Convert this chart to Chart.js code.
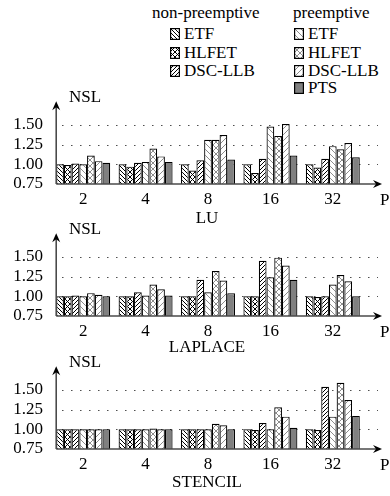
<!DOCTYPE html>
<html>
<head>
<meta charset="utf-8">
<script src="https://cdn.jsdelivr.net/npm/chart.js@4/dist/chart.umd.min.js"></script>
<style>
  html, body { margin: 0; padding: 0; background: #fff; }
  body { width: 390px; height: 496px; position: relative; overflow: hidden;
         font-family: "Liberation Serif", "DejaVu Serif", serif; color: #000; }
  .t { position: absolute; font-size: 17px; line-height: 20px; white-space: nowrap; }
  .ctr { transform: translateX(-50%); }
  canvas.chart { position: absolute; left: 0; }
  canvas.sw { position: absolute; }
</style>
</head>
<body>
<script>
// ---------------- data ----------------
const categories = ['2', '4', '8', '16', '32'];
const seriesNames = ['ETF', 'HLFET', 'DSC-LLB', 'ETF', 'HLFET', 'DSC-LLB', 'PTS'];
const yTickValues = [0.75, 1.00, 1.25, 1.50];
const gridValues = [1.00, 1.25, 1.50];

// LU
const luNpETF   = [1.00, 1.00, 1.00, 1.00, 1.00];
const luNpHLFET = [0.99, 0.97, 0.92, 0.89, 0.96];
const luNpDSC   = [1.01, 1.02, 1.05, 1.07, 1.07];
const luPETF    = [1.00, 1.03, 1.31, 1.48, 1.23];
const luPHLFET  = [1.11, 1.20, 1.31, 1.36, 1.19];
const luPDSC    = [1.04, 1.10, 1.37, 1.51, 1.27];
const luPTS     = [1.02, 1.03, 1.06, 1.11, 1.09];
// LAPLACE
const lapNpETF   = [1.00, 1.00, 1.00, 1.00, 1.00];
const lapNpHLFET = [1.00, 1.00, 1.00, 1.00, 0.99];
const lapNpDSC   = [1.01, 1.05, 1.21, 1.45, 1.00];
const lapPETF    = [1.00, 1.01, 1.05, 1.24, 1.15];
const lapPHLFET  = [1.04, 1.15, 1.32, 1.49, 1.27];
const lapPDSC    = [1.02, 1.09, 1.20, 1.39, 1.19];
const lapPTS     = [1.00, 1.01, 1.04, 1.21, 1.00];
// STENCIL
const stNpETF   = [1.00, 1.00, 1.00, 1.00, 1.00];
const stNpHLFET = [1.00, 1.00, 1.00, 0.99, 0.99];
const stNpDSC   = [1.00, 1.00, 1.00, 1.08, 1.54];
const stPETF    = [1.00, 1.00, 1.00, 1.00, 1.16];
const stPHLFET  = [1.00, 1.01, 1.07, 1.28, 1.59];
const stPDSC    = [1.00, 1.00, 1.05, 1.16, 1.37];
const stPTS     = [1.00, 1.00, 1.00, 1.02, 1.17];

const panelTitles = ['LU', 'LAPLACE', 'STENCIL'];
const panelData = [
  [luNpETF, luNpHLFET, luNpDSC, luPETF, luPHLFET, luPDSC, luPTS],
  [lapNpETF, lapNpHLFET, lapNpDSC, lapPETF, lapPHLFET, lapPDSC, lapPTS],
  [stNpETF, stNpHLFET, stNpDSC, stPETF, stPHLFET, stPDSC, stPTS]
];

// ---------------- patterns ----------------
function makePattern(kind, color, s, lw) {
  const c = document.createElement('canvas');
  c.width = s; c.height = s;
  const g = c.getContext('2d');
  g.fillStyle = '#fff'; g.fillRect(0, 0, s, s);
  if (kind === 'solid') { g.fillStyle = color; g.fillRect(0, 0, s, s); return g.createPattern(c, 'repeat'); }
  g.strokeStyle = color; g.lineWidth = lw; g.beginPath();
  for (let k = -1; k <= 1; k++) {
    if (kind === 'back' || kind === 'cross') { g.moveTo(k * s, 0); g.lineTo(k * s + s, s); }
    if (kind === 'fwd' || kind === 'cross') { g.moveTo(k * s, s); g.lineTo(k * s + s, 0); }
  }
  g.stroke();
  return g.createPattern(c, 'repeat');
}
const fills = [
  makePattern('back', '#000', 4, 1),
  makePattern('cross', '#000', 5, 1),
  makePattern('fwd', '#000', 4, 1),
  makePattern('back', '#8c8c8c', 6, 1),
  makePattern('cross', '#8c8c8c', 6, 1),
  makePattern('fwd', '#8c8c8c', 6, 1),
  makePattern('solid', '#808080', 4, 1)
];

// ---------------- static text ----------------
function addText(txt, x, yc, center) {
  const d = document.createElement('div');
  d.className = 't' + (center ? ' ctr' : '');
  d.textContent = txt;
  d.style.left = x + 'px';
  d.style.top = (yc - 10) + 'px';
  document.body.appendChild(d);
}
function addSwatch(i, x, yc) {
  const c = document.createElement('canvas');
  c.className = 'sw'; c.width = 10; c.height = 12;
  c.style.left = x + 'px'; c.style.top = (yc - 6) + 'px';
  const g = c.getContext('2d');
  g.fillStyle = fills[i]; g.fillRect(0, 0, 10, 12);
  g.strokeStyle = '#000'; g.lineWidth = 1.2; g.strokeRect(0.6, 0.6, 8.8, 10.8);
  document.body.appendChild(c);
}
addText('non-preemptive', 152, 13);
addText('preemptive', 293, 13);
const legendRows = [34, 52.5, 70.5, 88];
for (let i = 0; i < 3; i++) {
  addSwatch(i, 170, legendRows[i]);
  addText(seriesNames[i], 184, legendRows[i]);
}
for (let i = 3; i < 7; i++) {
  addSwatch(i, 294, legendRows[i - 3]);
  addText(seriesNames[i], 308, legendRows[i - 3]);
}

// ---------------- charts ----------------
const canvasTops = [82, 214, 347];
const titleY = [218, 347, 482];

function arrow(ctx, tx, ty, dir) {
  const L = 9, W = 4, N = 3;
  ctx.beginPath();
  if (dir === 'up') {
    ctx.moveTo(tx, ty); ctx.lineTo(tx - W, ty + L); ctx.lineTo(tx, ty + L - N); ctx.lineTo(tx + W, ty + L);
  } else {
    ctx.moveTo(tx, ty); ctx.lineTo(tx - L, ty - W); ctx.lineTo(tx - L + N, ty); ctx.lineTo(tx - L, ty + W);
  }
  ctx.closePath(); ctx.fillStyle = '#000'; ctx.fill();
}

const axesPlugin = {
  id: 'axesPlugin',
  beforeDatasetsDraw(chart) {
    const ctx = chart.ctx, y = chart.scales.y;
    const bar = chart.getDatasetMeta(0).data[0];
    const x0 = bar.x - bar.width / 2;
    ctx.save();
    ctx.strokeStyle = '#222'; ctx.lineWidth = 1.1; ctx.setLineDash([1.2, 7.8]);
    gridValues.forEach(v => {
      const py = Math.round(y.getPixelForValue(v)) + 0.5;
      ctx.beginPath(); ctx.moveTo(x0 + 6, py); ctx.lineTo(378, py); ctx.stroke();
    });
    ctx.restore();
  },
  afterDraw(chart) {
    const ctx = chart.ctx, a = chart.chartArea;
    const bar = chart.getDatasetMeta(0).data[0];
    const x0 = bar.x - bar.width / 2;
    ctx.save();
    ctx.setLineDash([]);
    ctx.strokeStyle = '#4a4a4a'; ctx.lineWidth = 1.6;
    ctx.beginPath(); ctx.moveTo(x0, a.bottom); ctx.lineTo(376, a.bottom); ctx.stroke();
    ctx.beginPath(); ctx.moveTo(x0, a.bottom); ctx.lineTo(x0, a.top + 5); ctx.stroke();
    arrow(ctx, 382, a.bottom, 'right');
    arrow(ctx, x0, a.top, 'up');
    ctx.restore();
  }
};

panelData.forEach((series, p) => {
  const cv = document.createElement('canvas');
  cv.className = 'chart';
  cv.width = 390; cv.height = 128;
  cv.style.width = '390px'; cv.style.height = '128px';
  cv.style.top = canvasTops[p] + 'px';
  document.body.appendChild(cv);

  new Chart(cv, {
    type: 'bar',
    data: {
      labels: categories,
      datasets: series.map((vals, i) => ({
        label: seriesNames[i],
        data: vals,
        backgroundColor: fills[i],
        borderColor: '#000',
        borderWidth: 1.2,
        borderSkipped: false,
        categoryPercentage: 0.865,
        barPercentage: 1.0
      }))
    },
    options: {
      responsive: false,
      animation: false,
      events: [],
      layout: { padding: { top: 10, right: 26, left: 0, bottom: 0 } },
      plugins: { legend: { display: false }, tooltip: { enabled: false }, title: { display: false } },
      scales: {
        x: {
          grid: { display: false, drawTicks: false },
          border: { display: false },
          ticks: { color: '#000', font: { family: 'Liberation Serif', size: 17 }, padding: 5, maxRotation: 0, autoSkip: false },
          afterFit: s => { s.height = 26; }
        },
        y: {
          min: 0.75, max: 1.80,
          afterBuildTicks: s => { s.ticks = yTickValues.map(v => ({ value: v })); },
          grid: { display: false, drawTicks: false },
          border: { display: false },
          ticks: { color: '#000', font: { family: 'Liberation Serif', size: 17 }, padding: 9,
                   callback: v => Number(v).toFixed(2) },
          afterFit: s => { s.width = 52; }
        }
      }
    },
    plugins: [axesPlugin]
  });

  const top = canvasTops[p];
  addText('NSL', 69, top + 15);
  addText('P', 380, top + 10 + 92 + 15.5);
  addText(panelTitles[p], 207, titleY[p], true);
});
</script>
</body>
</html>
